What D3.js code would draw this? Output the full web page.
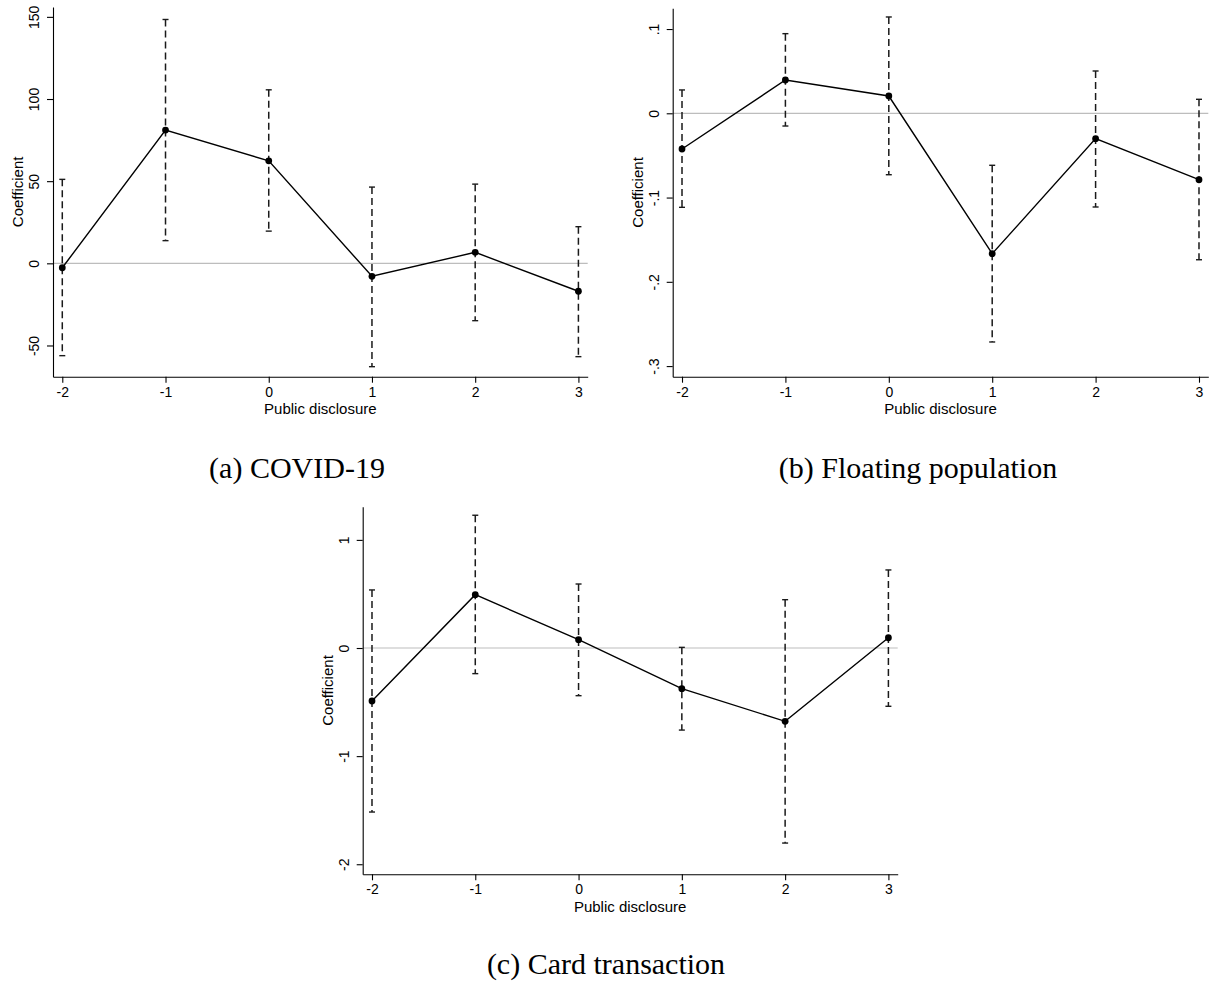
<!DOCTYPE html>
<meta charset="utf-8">
<style>
body {
  margin: 0;
  background: #fff;
}
svg text {
  font-family: "Liberation Sans", Helvetica, Arial, sans-serif;
  fill: #000;
}
.axis path,
.axis line {
  fill: none;
  stroke: #000;
  stroke-width: 1.1;
}
.axis text {
  font-size: 14px;
}
.title {
  font-size: 15px;
}
.caption {
  font-family: "Liberation Serif", "Times New Roman", serif;
  font-size: 30px;
}
.ci {
  stroke: #1a1a1a;
  stroke-width: 1.5;
  stroke-dasharray: 7,4;
}
.cap {
  stroke: #1a1a1a;
  stroke-width: 1.4;
}
.coef-line {
  fill: none;
  stroke: #000;
  stroke-width: 1.4;
}
.zero {
  stroke: #bdbdbd;
  stroke-width: 1.2;
}
</style>
<svg width="1210" height="986"></svg>
<script src="https://cdn.jsdelivr.net/npm/d3@7"></script>
<script>

// event time
var periods = [-2, -1, 0, 1, 2, 3];

// (a) COVID-19
var covidCoef = [-2.7, 81.1, 62.4, -7.9, 6.7, -17.0];
var covidLo   = [-56.2, 13.8, 19.6, -62.9, -34.9, -56.8];
var covidHi   = [51.1, 148.4, 105.6, 46.4, 48.2, 22.3];
var covidTicks = [-50, 0, 50, 100, 150];

// (b) Floating population
var floatCoef = [-0.0424, 0.0395, 0.0205, -0.1666, -0.0301, -0.0788];
var floatLo   = [-0.1116, -0.0151, -0.0729, -0.2714, -0.1112, -0.1738];
var floatHi   = [0.0277, 0.0945, 0.1143, -0.0617, 0.0502, 0.0166];
var floatTicks = [-0.3, -0.2, -0.1, 0, 0.1];

// (c) Card transaction
var cardCoef = [-0.490, 0.493, 0.077, -0.376, -0.678, 0.095];
var cardLo   = [-1.517, -0.237, -0.441, -0.759, -1.804, -0.539];
var cardHi   = [0.537, 1.228, 0.592, 0.006, 0.447, 0.722];
var cardTicks = [-2, -1, 0, 1];

var captions = ["(a) COVID-19", "(b) Floating population", "(c) Card transaction"];

var panels = [
  {coef: covidCoef, lo: covidLo, hi: covidHi, ticks: covidTicks, yDomain: [-69, 156],
   left: 53, right: 587.7, top: 7, bottom: 376.7, caption: captions[0], capX: 297, capY: 478},
  {coef: floatCoef, lo: floatLo, hi: floatHi, ticks: floatTicks, yDomain: [-0.3126, 0.1246],
   left: 672.7, right: 1208.3, top: 8.3, bottom: 376.7, caption: captions[1], capX: 918, capY: 478},
  {coef: cardCoef, lo: cardLo, hi: cardHi, ticks: cardTicks, yDomain: [-2.093, 1.307],
   left: 362.7, right: 897.7, top: 506.7, bottom: 874.3, caption: captions[2], capX: 606, capY: 974}
];

// Stata style labels: .1, -.2, 0 (plain hyphen)
function stataFmt(v) {
  var s = String(+v.toFixed(4));
  return s.replace(/^(-?)0\./, "$1.");
}

var svg = d3.select("svg");

panels.forEach(function(p) {
  var data = periods.map(function(t, i) {
    return {t: t, b: p.coef[i], lo: p.lo[i], hi: p.hi[i]};
  });

  var x = d3.scaleLinear().domain([-2.09, 3.09]).range([p.left, p.right]),
      y = d3.scaleLinear().domain(p.yDomain).range([p.bottom, p.top]);

  var g = svg.append("g");

  // zero reference line
  g.append("line")
      .attr("class", "zero")
      .attr("x1", p.left)
      .attr("x2", p.right)
      .attr("y1", y(0))
      .attr("y2", y(0));

  // x axis
  g.append("g")
      .attr("class", "axis")
      .attr("transform", "translate(0," + p.bottom + ")")
      .call(d3.axisBottom(x).tickValues(periods).tickSize(6).tickSizeOuter(0).tickPadding(4)
        .tickFormat(stataFmt));

  // y axis, vertical labels
  var yAxis = g.append("g")
      .attr("class", "axis")
      .attr("transform", "translate(" + p.left + ",0)")
      .call(d3.axisLeft(y).tickValues(p.ticks).tickSize(6).tickSizeOuter(0).tickFormat(stataFmt));
  yAxis.selectAll(".tick text")
      .attr("transform", "rotate(-90)")
      .attr("x", 0)
      .attr("y", -14)
      .attr("dy", 0)
      .attr("text-anchor", "middle");

  // axis titles
  g.append("text")
      .attr("class", "title")
      .attr("x", (p.left + p.right) / 2)
      .attr("y", p.bottom + 37.5)
      .attr("text-anchor", "middle")
      .text("Public disclosure");
  g.append("text")
      .attr("class", "title")
      .attr("transform", "translate(" + (p.left - 30) + "," + ((p.top + p.bottom) / 2) + ") rotate(-90)")
      .attr("text-anchor", "middle")
      .text("Coefficient");

  // confidence intervals
  g.selectAll(".ci")
    .data(data)
    .enter().append("line")
      .attr("class", "ci")
      .attr("x1", function(d) { return x(d.t); })
      .attr("x2", function(d) { return x(d.t); })
      .attr("y1", function(d) { return y(d.hi); })
      .attr("y2", function(d) { return y(d.lo); });

  var caps = [];
  data.forEach(function(d) { caps.push({t: d.t, v: d.hi}, {t: d.t, v: d.lo}); });
  g.selectAll(".cap")
    .data(caps)
    .enter().append("line")
      .attr("class", "cap")
      .attr("x1", function(d) { return x(d.t) - 3; })
      .attr("x2", function(d) { return x(d.t) + 3; })
      .attr("y1", function(d) { return y(d.v); })
      .attr("y2", function(d) { return y(d.v); });

  // point estimates
  g.append("path")
      .datum(data)
      .attr("class", "coef-line")
      .attr("d", d3.line()
        .x(function(d) { return x(d.t); })
        .y(function(d) { return y(d.b); }));

  g.selectAll(".dot")
    .data(data)
    .enter().append("circle")
      .attr("class", "dot")
      .attr("cx", function(d) { return x(d.t); })
      .attr("cy", function(d) { return y(d.b); })
      .attr("r", 3.4)
      .attr("fill", "#000");

  svg.append("text")
      .attr("class", "caption")
      .attr("x", p.capX)
      .attr("y", p.capY)
      .attr("text-anchor", "middle")
      .text(p.caption);
});

</script>
